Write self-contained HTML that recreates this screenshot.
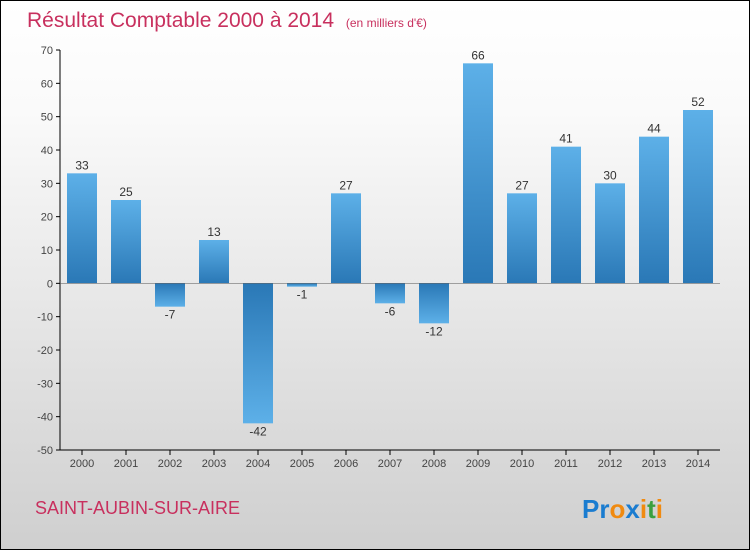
<!DOCTYPE html>
<html><head><meta charset="utf-8"><style>
body{margin:0;width:750px;height:550px;overflow:hidden}
#wrap{position:absolute;left:0;top:0;width:748px;height:548px;border:1px solid #000;background:linear-gradient(#fff,#fafafa 20%,#cfcfcf)}
text{font-family:"Liberation Sans",sans-serif}
</style></head><body>
<div id="wrap">
<svg id="svg" width="750" height="550" style="position:absolute;left:-1px;top:-1px">
<defs>
<linearGradient id="gp" x1="0" y1="0" x2="0" y2="1"><stop offset="0" stop-color="#5db0e8"/><stop offset="1" stop-color="#2a78b6"/></linearGradient>
<linearGradient id="gn" x1="0" y1="0" x2="0" y2="1"><stop offset="0" stop-color="#2a78b6"/><stop offset="1" stop-color="#5db0e8"/></linearGradient>
</defs>
<text x="27" y="27" font-size="21" fill="#c8305e">Résultat Comptable 2000 à 2014 <tspan font-size="12" dx="6">(en milliers d'€)</tspan></text>
<text x="35" y="514" font-size="18" fill="#c8305e">SAINT-AUBIN-SUR-AIRE</text>
<text x="582" y="518" font-size="26" font-weight="bold"><tspan fill="#1a7cd0">Pr</tspan><tspan fill="#f08a10">o</tspan><tspan fill="#1a7cd0">x</tspan><tspan fill="#f08a10">i</tspan><tspan fill="#3aa040">t</tspan><tspan fill="#f08a10">i</tspan></text>
<g id="g"></g>
</svg></div>
<script>
const categories=["2000","2001","2002","2003","2004","2005","2006","2007","2008","2009","2010","2011","2012","2013","2014"];
const values=[33,25,-7,13,-42,-1,27,-6,-12,66,27,41,30,44,52];
const yTicks=[70,60,50,40,30,20,10,0,-10,-20,-30,-40,-50];
const ns="http://www.w3.org/2000/svg",g=document.getElementById('g');
const x0=60,band=44,yMin=-50,yMax=70,yTop=50,yBot=450;
const y=v=>yBot-(v-yMin)/(yMax-yMin)*(yBot-yTop);
const xc=i=>x0+band*(i+0.5);
function el(t,a,txt){const e=document.createElementNS(ns,t);for(const k in a)e.setAttribute(k,a[k]);if(txt!==undefined)e.textContent=txt;g.appendChild(e);return e;}
yTicks.forEach(t=>{
 const l=el('line',{x1:56,x2:60,y1:y(t),y2:y(t),stroke:'#000'});
 
 const tx=el('text',{x:53,y:y(t)+4,'text-anchor':'end','font-size':11,fill:'#444'},t);
 
});
values.forEach((v,i)=>{
 const top=Math.min(y(v),y(0)),h=Math.abs(y(v)-y(0));
 const r=el('rect',{x:xc(i)-15,y:top,width:30,height:Math.max(h,1),fill:v>=0?'url(#gp)':'url(#gn)'});
 
 const ly=v>=0?y(v)-4:y(v)+12;
 const t=el('text',{x:xc(i),y:ly,'text-anchor':'middle','font-size':12,fill:'#333'},v);
 
 const tk=el('line',{x1:xc(i),x2:xc(i),y1:450,y2:455,stroke:'#000'});
 
 const c=el('text',{x:xc(i),y:467,'text-anchor':'middle','font-size':11,fill:'#444'},categories[i]);
 
});
const ya=el('line',{x1:60,x2:60,y1:50,y2:450,stroke:'#000'});

const xa=el('line',{x1:60,x2:720,y1:450,y2:450,stroke:'#000'});

const za=el('line',{x1:60,x2:720,y1:y(0),y2:y(0),stroke:'#555','stroke-width':0.5});

</script>
</body></html>
